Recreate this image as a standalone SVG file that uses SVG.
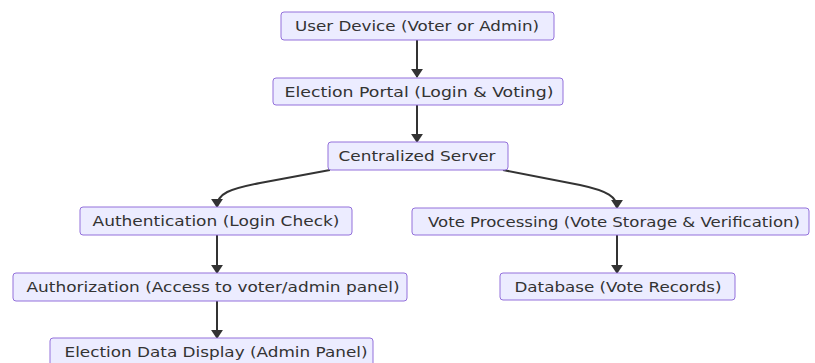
<svg xmlns="http://www.w3.org/2000/svg" width="815" height="363" viewBox="0 0 815 363">
<style>
.node rect{fill:#ECECFF;stroke:#9370DB;stroke-width:1}
.node text{font-family:"DejaVu Sans",Verdana,sans-serif;font-size:14px;fill:#333;text-anchor:middle;dominant-baseline:central}
.edge{fill:none;stroke:#333;stroke-width:2}
</style>
<defs>
<marker id="arr" viewBox="0 0 10 10" refX="9" refY="5" markerWidth="4.5" markerHeight="6" orient="auto" markerUnits="strokeWidth" preserveAspectRatio="none">
<path d="M0,0 L10,5 L0,10 z" fill="#333"/>
</marker>
</defs>
<rect width="815" height="363" fill="#fff"/>
<g id="connectors">
<path class="edge" d="M417,40 L417,77" marker-end="url(#arr)"/>
<path class="edge" d="M417,105 L417,142" marker-end="url(#arr)"/>
<path class="edge" d="M330,170 L260,183 C230,189 217,193 217,207" marker-end="url(#arr)"/>
<path class="edge" d="M503,170 L580,185 C608,191 617,197 617,208" marker-end="url(#arr)"/>
<path class="edge" d="M217,235 L217,273" marker-end="url(#arr)"/>
<path class="edge" d="M217,301 L217,338" marker-end="url(#arr)"/>
<path class="edge" d="M617,235 L617,273" marker-end="url(#arr)"/>
</g>
<g id="n1" class="node"><rect x="281" y="12" width="273" height="28" rx="3"/><text x="417" y="26" textLength="244" lengthAdjust="spacingAndGlyphs">User Device (Voter or Admin)</text></g>
<g id="n2" class="node"><rect x="273" y="78" width="290" height="27" rx="3"/><text x="419" y="91.5" textLength="269" lengthAdjust="spacingAndGlyphs">Election Portal (Login &amp; Voting)</text></g>
<g id="n3" class="node"><rect x="328" y="142" width="180" height="28" rx="3"/><text x="417" y="156" textLength="157" lengthAdjust="spacingAndGlyphs">Centralized Server</text></g>
<g id="n4" class="node"><rect x="80" y="207" width="272" height="28" rx="3"/><text x="216" y="221" textLength="247" lengthAdjust="spacingAndGlyphs">Authentication (Login Check)</text></g>
<g id="n5" class="node"><rect x="13" y="273" width="394" height="28" rx="3"/><text x="213" y="287" textLength="373" lengthAdjust="spacingAndGlyphs">Authorization (Access to voter/admin panel)</text></g>
<g id="n6" class="node"><rect x="50" y="338" width="323" height="28" rx="3"/><text x="216" y="352" textLength="303" lengthAdjust="spacingAndGlyphs">Election Data Display (Admin Panel)</text></g>
<g id="n7" class="node"><rect x="412" y="208" width="397" height="27" rx="3"/><text x="614" y="221.5" textLength="372" lengthAdjust="spacingAndGlyphs">Vote Processing (Vote Storage &amp; Verification)</text></g>
<g id="n8" class="node"><rect x="500" y="273" width="235" height="27" rx="3"/><text x="618" y="286.5" textLength="207" lengthAdjust="spacingAndGlyphs">Database (Vote Records)</text></g>
</svg>
